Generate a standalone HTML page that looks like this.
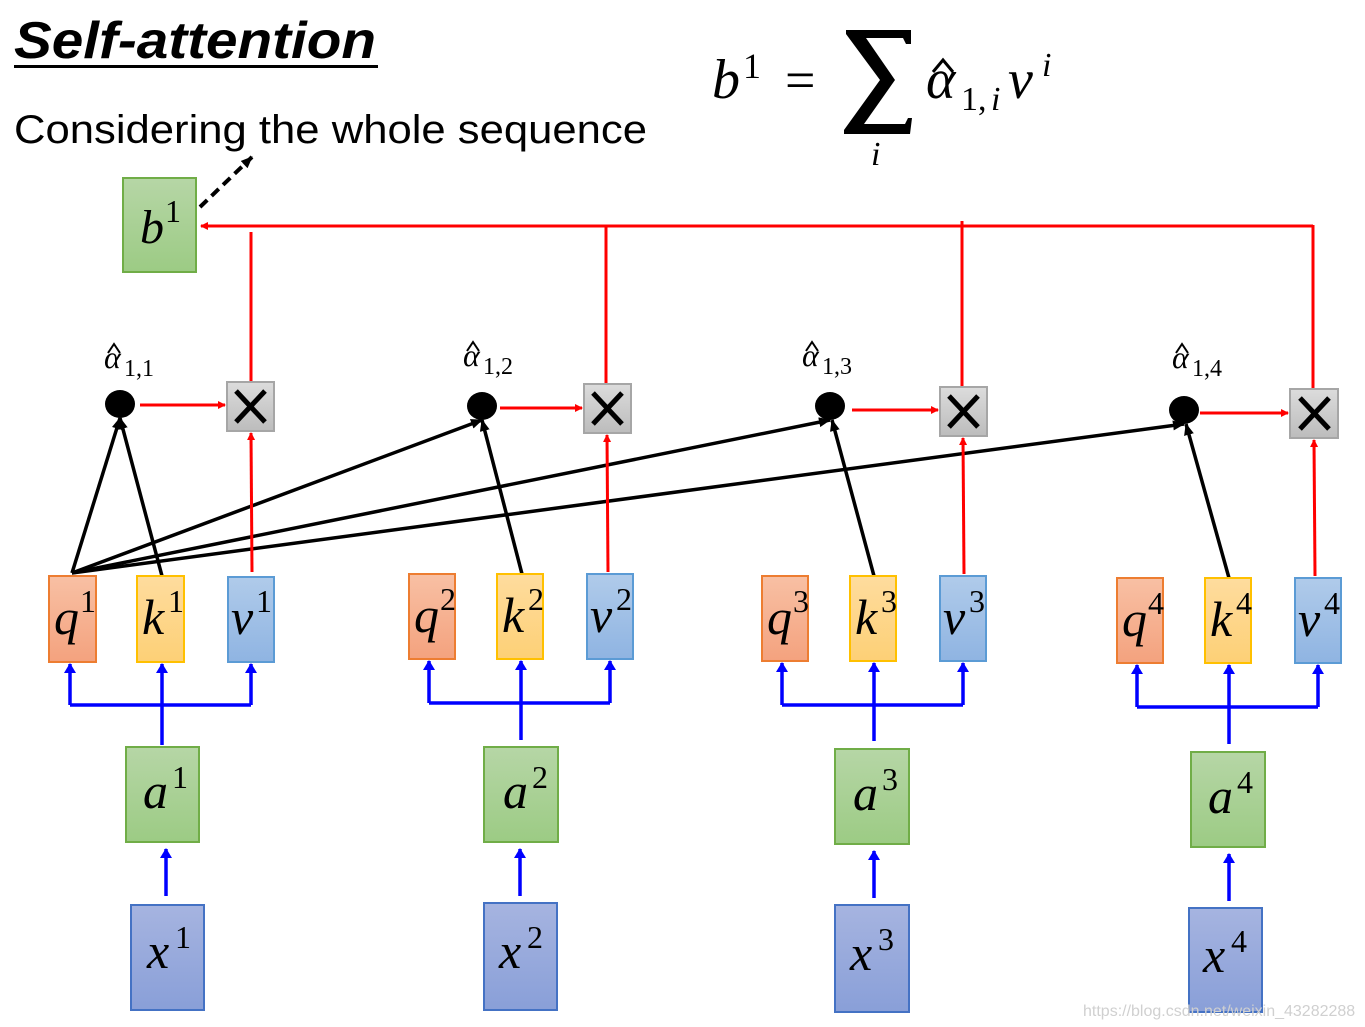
<!DOCTYPE html>
<html><head><meta charset="utf-8"><style>
html,body{margin:0;padding:0;background:#fff;}
svg{display:block;}
.m{font-family:"Liberation Serif",serif;font-style:italic;}
.n{font-family:"Liberation Serif",serif;}
</style></head><body>
<svg width="1365" height="1027" viewBox="0 0 1365 1027" xmlns="http://www.w3.org/2000/svg">
<defs>
<linearGradient id="gq" x1="0" y1="0" x2="0" y2="1"><stop offset="0" stop-color="#f8c0a4"/><stop offset="1" stop-color="#f4a27e"/></linearGradient>
<linearGradient id="gk" x1="0" y1="0" x2="0" y2="1"><stop offset="0" stop-color="#fedc9e"/><stop offset="1" stop-color="#fdd076"/></linearGradient>
<linearGradient id="gv" x1="0" y1="0" x2="0" y2="1"><stop offset="0" stop-color="#b0cbea"/><stop offset="1" stop-color="#8fb4e2"/></linearGradient>
<linearGradient id="ga" x1="0" y1="0" x2="0" y2="1"><stop offset="0" stop-color="#b6d6a6"/><stop offset="1" stop-color="#9ccb84"/></linearGradient>
<linearGradient id="gx" x1="0" y1="0" x2="0" y2="1"><stop offset="0" stop-color="#a6b4e0"/><stop offset="1" stop-color="#899fd8"/></linearGradient>
<linearGradient id="gc" x1="0" y1="0" x2="0" y2="1"><stop offset="0" stop-color="#dcdcdc"/><stop offset="1" stop-color="#bcbcbc"/></linearGradient>
<marker id="ar" markerWidth="8" markerHeight="8" refX="7" refY="4" orient="auto" markerUnits="userSpaceOnUse"><path d="M0,0 L8,4 L0,8 z" fill="#ff0000"/></marker>
<marker id="ab" markerWidth="10" markerHeight="12" refX="9" refY="6" orient="auto" markerUnits="userSpaceOnUse"><path d="M0,0 L10,6 L0,12 z" fill="#0000ff"/></marker>
<marker id="ak" markerWidth="12" markerHeight="10" refX="11" refY="5" orient="auto" markerUnits="userSpaceOnUse"><path d="M0,0 L12,5 L0,10 z" fill="#000"/></marker>
</defs>

<!-- title -->
<text x="14" y="58" font-family="Liberation Sans,sans-serif" font-size="52" font-weight="bold" font-style="italic" textLength="362" lengthAdjust="spacingAndGlyphs">Self-attention</text>
<rect x="14" y="65" width="364" height="3" fill="#000"/>
<text x="14" y="143" font-family="Liberation Sans,sans-serif" font-size="40" textLength="633" lengthAdjust="spacingAndGlyphs">Considering the whole sequence</text>

<!-- formula -->
<text class="m" x="712" y="98" font-size="56">b</text>
<text class="n" x="743" y="78" font-size="36">1</text>
<text class="n" x="785" y="98" font-size="54">=</text>
<path d="M846,30 L911,30 L911,44 L906,44 L903,38 L866,38 L895,80 L864,124 L905,124 L908,118 L912,118 L910,134 L844,134 L844,130 L880,80 L846,34 z" fill="#000"/>
<text class="m" x="871" y="165" font-size="34">i</text>
<text class="m" x="926" y="98" font-size="56">α</text>
<path d="M933,72 L943,60 L953,72" stroke="#000" stroke-width="3" fill="none"/>
<text class="n" x="961" y="110" font-size="34">1,</text>
<text class="m" x="991" y="110" font-size="34">i</text>
<text class="m" x="1008" y="98" font-size="56">v</text>
<text class="m" x="1042" y="76" font-size="34">i</text>

<!-- b1 -->
<rect x="123" y="178" width="73" height="94" fill="url(#ga)" stroke="#70ad47" stroke-width="2"/>
<text class="m" x="140" y="243" font-size="48">b</text><text class="n" x="165" y="222" font-size="32">1</text>
<line x1="200" y1="207" x2="252" y2="157" stroke="#000" stroke-width="4" stroke-dasharray="10,6" marker-end="url(#ak)"/>

<!-- top red bus -->
<g stroke="#ff0000" stroke-width="3" fill="none">
<line x1="1313" y1="226" x2="201" y2="226" marker-end="url(#ar)"/>
<line x1="1313" y1="225" x2="1313" y2="389"/>
<line x1="251" y1="232" x2="251" y2="382"/>
<line x1="606" y1="226" x2="606" y2="384"/>
<line x1="962" y1="221" x2="962" y2="387"/>
</g>

<!-- black lines -->
<g stroke="#000" stroke-width="3.5" fill="none" marker-end="url(#ak)">
<line x1="72" y1="573" x2="120" y2="418"/>
<line x1="72" y1="573" x2="482" y2="420"/>
<line x1="72" y1="573" x2="830" y2="420"/>
<line x1="72" y1="573" x2="1184" y2="424"/>
<line x1="162" y1="576" x2="120" y2="418"/>
<line x1="522" y1="574" x2="482" y2="420"/>
<line x1="874" y1="576" x2="832" y2="420"/>
<line x1="1229" y1="578" x2="1186" y2="424"/>
</g>

<g fill="#000">
<ellipse cx="120" cy="404" rx="15" ry="14"/>
<ellipse cx="482" cy="406" rx="15" ry="14"/>
<ellipse cx="830" cy="406" rx="15" ry="14"/>
<ellipse cx="1184" cy="410" rx="15" ry="14"/>
</g>

<!-- alpha labels -->
<g>
<text class="m" x="104" y="368" font-size="32">α</text><path d="M108,353 L114,344 L120,353" stroke="#000" stroke-width="2" fill="none"/><text class="n" x="124" y="376" font-size="24">1,1</text>
<text class="m" x="463" y="366" font-size="32">α</text><path d="M467,351 L473,342 L479,351" stroke="#000" stroke-width="2" fill="none"/><text class="n" x="483" y="374" font-size="24">1,2</text>
<text class="m" x="802" y="366" font-size="32">α</text><path d="M806,351 L812,342 L818,351" stroke="#000" stroke-width="2" fill="none"/><text class="n" x="822" y="374" font-size="24">1,3</text>
<text class="m" x="1172" y="368" font-size="32">α</text><path d="M1176,353 L1182,344 L1188,353" stroke="#000" stroke-width="2" fill="none"/><text class="n" x="1192" y="376" font-size="24">1,4</text>
</g>

<g stroke="#ff0000" stroke-width="3" marker-end="url(#ar)">
<line x1="140" y1="405" x2="225" y2="405"/>
<line x1="500" y1="408" x2="582" y2="408"/>
<line x1="852" y1="410" x2="938" y2="410"/>
<line x1="1200" y1="413" x2="1288" y2="413"/>
<line x1="252" y1="572" x2="251" y2="433"/>
<line x1="608" y1="572" x2="607" y2="435"/>
<line x1="964" y1="574" x2="963" y2="438"/>
<line x1="1315" y1="576" x2="1314" y2="440"/>
</g>

<g>
<rect x="227" y="382" width="47" height="49" fill="url(#gc)" stroke="#a6a6a6" stroke-width="2"/>
<rect x="584" y="384" width="47" height="49" fill="url(#gc)" stroke="#a6a6a6" stroke-width="2"/>
<rect x="940" y="387" width="47" height="49" fill="url(#gc)" stroke="#a6a6a6" stroke-width="2"/>
<rect x="1290" y="389" width="48" height="49" fill="url(#gc)" stroke="#a6a6a6" stroke-width="2"/>
</g>
<g stroke="#000" stroke-width="5">
<path d="M236,391 L265,422 M265,391 L236,422"/>
<path d="M593,393 L622,424 M622,393 L593,424"/>
<path d="M949,396 L978,427 M978,396 L949,427"/>
<path d="M1300,398 L1329,429 M1329,398 L1300,429"/>
</g>

<g stroke="#0000ff" stroke-width="3.5" fill="none">
<path d="M70,705 H251 M162,745 V705"/>
<path d="M429,703 H610 M521,740 V703"/>
<path d="M782,705 H963 M874,741 V705"/>
<path d="M1137,707 H1318 M1229,744 V707"/>
</g>
<g stroke="#0000ff" stroke-width="3.5" marker-end="url(#ab)">
<line x1="70" y1="705" x2="70" y2="664"/><line x1="162" y1="705" x2="162" y2="664"/><line x1="251" y1="705" x2="251" y2="664"/>
<line x1="429" y1="703" x2="429" y2="661"/><line x1="521" y1="703" x2="521" y2="661"/><line x1="610" y1="703" x2="610" y2="661"/>
<line x1="782" y1="705" x2="782" y2="663"/><line x1="874" y1="705" x2="874" y2="663"/><line x1="963" y1="705" x2="963" y2="663"/>
<line x1="1137" y1="707" x2="1137" y2="665"/><line x1="1229" y1="707" x2="1229" y2="665"/><line x1="1318" y1="707" x2="1318" y2="665"/>
<line x1="166" y1="896" x2="166" y2="849"/>
<line x1="520" y1="896" x2="520" y2="849"/>
<line x1="874" y1="898" x2="874" y2="851"/>
<line x1="1229" y1="901" x2="1229" y2="854"/>
</g>

<g stroke-width="2">
<rect x="49" y="576" width="47" height="86" fill="url(#gq)" stroke="#ed7d31"/>
<rect x="137" y="576" width="47" height="86" fill="url(#gk)" stroke="#ffc000"/>
<rect x="228" y="577" width="46" height="85" fill="url(#gv)" stroke="#5b9bd5"/>
<rect x="409" y="574" width="46" height="85" fill="url(#gq)" stroke="#ed7d31"/>
<rect x="497" y="574" width="46" height="85" fill="url(#gk)" stroke="#ffc000"/>
<rect x="587" y="574" width="46" height="85" fill="url(#gv)" stroke="#5b9bd5"/>
<rect x="762" y="576" width="46" height="85" fill="url(#gq)" stroke="#ed7d31"/>
<rect x="850" y="576" width="46" height="85" fill="url(#gk)" stroke="#ffc000"/>
<rect x="940" y="576" width="46" height="85" fill="url(#gv)" stroke="#5b9bd5"/>
<rect x="1117" y="578" width="46" height="85" fill="url(#gq)" stroke="#ed7d31"/>
<rect x="1205" y="578" width="46" height="85" fill="url(#gk)" stroke="#ffc000"/>
<rect x="1295" y="578" width="46" height="85" fill="url(#gv)" stroke="#5b9bd5"/>
<rect x="126" y="747" width="73" height="95" fill="url(#ga)" stroke="#70ad47"/>
<rect x="484" y="747" width="74" height="95" fill="url(#ga)" stroke="#70ad47"/>
<rect x="835" y="749" width="74" height="95" fill="url(#ga)" stroke="#70ad47"/>
<rect x="1191" y="752" width="74" height="95" fill="url(#ga)" stroke="#70ad47"/>
<rect x="131" y="905" width="73" height="105" fill="url(#gx)" stroke="#4472c4"/>
<rect x="484" y="903" width="73" height="107" fill="url(#gx)" stroke="#4472c4"/>
<rect x="835" y="905" width="74" height="107" fill="url(#gx)" stroke="#4472c4"/>
<rect x="1189" y="908" width="73" height="104" fill="url(#gx)" stroke="#4472c4"/>
</g>

<!-- labels: main letter + superscript -->
<g class="m" font-size="50">
<text x="54" y="634">q</text><text x="142" y="634">k</text><text x="231" y="634">v</text>
<text x="414" y="632">q</text><text x="502" y="632">k</text><text x="590" y="632">v</text>
<text x="767" y="634">q</text><text x="855" y="634">k</text><text x="943" y="634">v</text>
<text x="1122" y="636">q</text><text x="1210" y="636">k</text><text x="1298" y="636">v</text>
<text x="143" y="808">a</text><text x="503" y="808">a</text><text x="853" y="810">a</text><text x="1208" y="813">a</text>
<text x="147" y="968">x</text><text x="499" y="968">x</text><text x="850" y="970">x</text><text x="1203" y="972">x</text>
</g>
<g class="n" font-size="32">
<text x="80" y="612">1</text><text x="168" y="612">1</text><text x="256" y="612">1</text>
<text x="440" y="610">2</text><text x="528" y="610">2</text><text x="616" y="610">2</text>
<text x="793" y="612">3</text><text x="881" y="612">3</text><text x="969" y="612">3</text>
<text x="1148" y="614">4</text><text x="1236" y="614">4</text><text x="1324" y="614">4</text>
<text x="172" y="788">1</text><text x="532" y="788">2</text><text x="882" y="790">3</text><text x="1237" y="793">4</text>
<text x="175" y="948">1</text><text x="527" y="948">2</text><text x="878" y="950">3</text><text x="1231" y="952">4</text>
</g>

<text x="1083" y="1016" font-family="Liberation Sans,sans-serif" font-size="16" fill="#d0d0d0">https://blog.csdn.net/weixin_43282288</text>
</svg>
</body></html>
